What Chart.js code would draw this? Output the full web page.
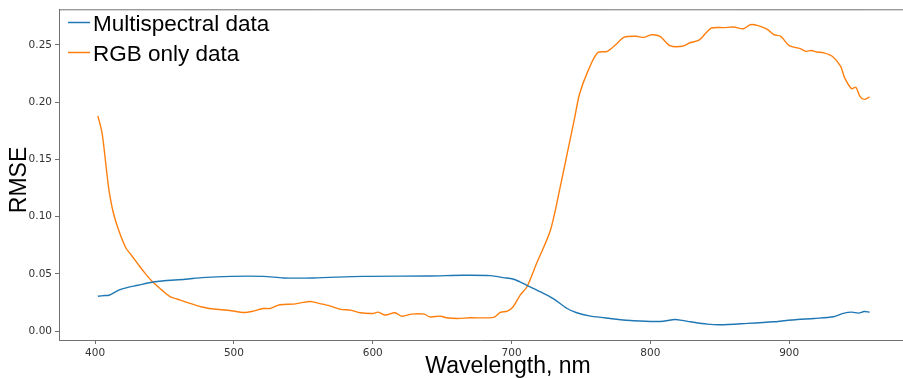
<!DOCTYPE html>
<html>
<head>
<meta charset="utf-8">
<script src="https://cdn.jsdelivr.net/npm/chart.js"></script>
<style>
  body { margin: 0; background: #fff; }
  canvas { display: block; }
</style>
</head>
<body>
<canvas id="myChart" width="903" height="378"></canvas>
<script>
// values
const msWl = [402, 407, 410, 417, 423, 431, 438, 448, 465, 477, 498, 521, 536, 557, 593, 641, 665, 685, 694, 701, 706, 711, 721, 730, 740, 747, 757, 771, 788, 807, 818, 823, 829, 841, 850, 870, 889, 896, 906, 918, 932, 939, 945, 950, 954, 958];
const msRmse = [0.0304, 0.031, 0.0313, 0.0357, 0.038, 0.040, 0.042, 0.0437, 0.0452, 0.0467, 0.0478, 0.0478, 0.0464, 0.0464, 0.0478, 0.0481, 0.0487, 0.0484, 0.0467, 0.0455, 0.043, 0.040, 0.0342, 0.0284, 0.0197, 0.016, 0.013, 0.011, 0.009, 0.0084, 0.0101, 0.0093, 0.0081, 0.0061, 0.0055, 0.0067, 0.0081, 0.009, 0.0101, 0.011, 0.0125, 0.0154, 0.0165, 0.0157, 0.0171, 0.0165];

const rgbWl = [402, 405, 408, 410, 413, 417, 422, 425, 430, 435, 441, 448, 454, 459, 465, 477, 487, 498, 507, 514, 521, 526, 533, 543, 548, 555, 562, 569, 577, 584, 591, 600, 604, 609, 616, 621, 628, 637, 641, 649, 653, 661, 670, 687, 692, 697, 701, 706, 711, 718, 728, 735, 740, 745, 749, 755, 762, 769, 775, 781, 790, 795, 801, 807, 814, 823, 829, 835, 840, 844, 853, 860, 867, 872, 877, 884, 889, 894, 900, 908, 912, 916, 920, 925, 931, 937, 940, 945, 948, 951, 954, 958];
const rgbRmse = [0.188, 0.173, 0.143, 0.123, 0.104, 0.088, 0.073, 0.068, 0.060, 0.052, 0.0435, 0.036, 0.030, 0.028, 0.0255, 0.021, 0.019, 0.0178, 0.0162, 0.0174, 0.0197, 0.0197, 0.023, 0.0235, 0.0246, 0.0258, 0.024, 0.022, 0.019, 0.0183, 0.016, 0.0154, 0.0165, 0.014, 0.016, 0.013, 0.0148, 0.0148, 0.0124, 0.013, 0.0116, 0.011, 0.0116, 0.012, 0.0163, 0.0174, 0.021, 0.031, 0.0385, 0.059, 0.088, 0.1255, 0.1545, 0.1835, 0.207, 0.227, 0.243, 0.2443, 0.250, 0.2565, 0.2574, 0.2565, 0.2588, 0.2574, 0.2493, 0.2487, 0.252, 0.254, 0.2603, 0.2647, 0.265, 0.2655, 0.264, 0.2675, 0.267, 0.2637, 0.2588, 0.2574, 0.2493, 0.2467, 0.2443, 0.245, 0.2437, 0.243, 0.240, 0.2313, 0.2211, 0.2116, 0.213, 0.205, 0.2023, 0.2046];

const xTicks = [400, 500, 600, 700, 800, 900];
const yTicks = [0.00, 0.05, 0.10, 0.15, 0.20, 0.25];
const seriesNames = ['Multispectral data', 'RGB only data'];

const blue = '#1f77b4';
const orange = '#ff7f0e';
const spine = '#707070';
const tickFont = { family: 'DejaVu Sans', size: 10.5 };

// legend inside the axes, top spine and axis titles
const extras = {
  id: 'extras',
  afterDraw(chart) {
    const ctx = chart.ctx;
    const a = chart.chartArea;
    ctx.save();
    ctx.strokeStyle = spine;
    ctx.lineWidth = 1;
    ctx.beginPath();
    ctx.moveTo(a.left, a.top + 0.5);
    ctx.lineTo(a.right, a.top + 0.5);
    ctx.stroke();

    const cols = [blue, orange];
    ctx.font = '22.5px "Liberation Sans", Arial, sans-serif';
    ctx.fillStyle = '#000';
    ctx.textBaseline = 'alphabetic';
    seriesNames.forEach((name, i) => {
      const y = 22.5 + i * 30;
      ctx.strokeStyle = cols[i];
      ctx.lineWidth = 1.5;
      ctx.beginPath();
      ctx.moveTo(68, y);
      ctx.lineTo(90, y);
      ctx.stroke();
      ctx.fillText(name, 93, y + 8.5);
    });

    ctx.font = '23px "Liberation Sans", Arial, sans-serif';
    ctx.textAlign = 'center';
    ctx.fillText('Wavelength, nm', 508, 373);
    ctx.translate(26, 180);
    ctx.rotate(-Math.PI / 2);
    ctx.fillText('RMSE', 0, 0);
    ctx.restore();
  }
};

new Chart(document.getElementById('myChart'), {
  type: 'line',
  data: {
    datasets: [
      {
        label: seriesNames[0],
        data: msWl.map((w, i) => ({ x: w, y: msRmse[i] })),
        borderColor: blue,
        borderWidth: 1.4,
        pointRadius: 0,
        tension: 0.3,
        fill: false
      },
      {
        label: seriesNames[1],
        data: rgbWl.map((w, i) => ({ x: w, y: rgbRmse[i] })),
        borderColor: orange,
        borderWidth: 1.4,
        pointRadius: 0,
        tension: 0.3,
        fill: false
      }
    ]
  },
  options: {
    responsive: false,
    animation: false,
    layout: { padding: { top: 8, right: 0, left: 0, bottom: 0 } },
    plugins: { legend: { display: false }, tooltip: { enabled: false } },
    scales: {
      x: {
        type: 'linear',
        min: 374,
        max: 982,
        afterBuildTicks: s => { s.ticks = xTicks.map(v => ({ value: v })); },
        afterFit: s => { s.height = 38; },
        grid: { drawOnChartArea: false, drawTicks: true, tickLength: 4, color: spine },
        border: { display: true, color: spine, width: 1 },
        ticks: { font: tickFont, color: '#333', padding: 3, maxRotation: 0 }
      },
      y: {
        min: -0.0078,
        max: 0.281,
        afterBuildTicks: s => { s.ticks = yTicks.map(v => ({ value: v })); },
        afterFit: s => { s.width = 59; },
        grid: { drawOnChartArea: false, drawTicks: true, tickLength: 4, color: spine },
        border: { display: true, color: spine, width: 1 },
        ticks: { font: tickFont, color: '#333', padding: 3, callback: v => v.toFixed(2) }
      }
    }
  },
  plugins: [extras]
});
</script>
</body>
</html>
